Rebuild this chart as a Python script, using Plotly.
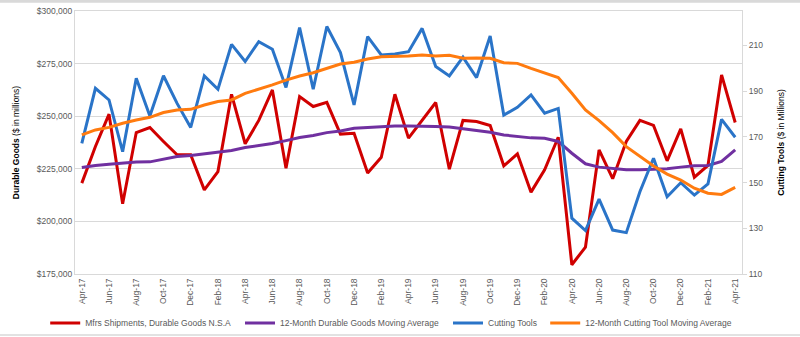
import plotly.graph_objects as go

months = ["Apr-17","May-17","Jun-17","Jul-17","Aug-17","Sep-17","Oct-17","Nov-17","Dec-17",
          "Jan-18","Feb-18","Mar-18","Apr-18","May-18","Jun-18","Jul-18","Aug-18","Sep-18","Oct-18","Nov-18","Dec-18",
          "Jan-19","Feb-19","Mar-19","Apr-19","May-19","Jun-19","Jul-19","Aug-19","Sep-19","Oct-19","Nov-19","Dec-19",
          "Jan-20","Feb-20","Mar-20","Apr-20","May-20","Jun-20","Jul-20","Aug-20","Sep-20","Oct-20","Nov-20","Dec-20",
          "Jan-21","Feb-21","Mar-21","Apr-21"]

durable_goods = [218200, 235600, 250950, 208400, 242250, 244600, 238000, 231650, 231650,
                 215000, 223700, 260400, 236900, 248000, 262500, 225300, 259300, 254600, 256600, 241500, 241900,
                 223000, 230500, 260400, 239600, 248000, 256500, 224800, 248000, 247500, 245600, 226400, 232100,
                 213900, 224500, 240000, 179400, 187800, 234000, 220300, 238000, 248000, 245600, 228800, 244000,
                 221000, 226600, 269600, 247000]

durable_ma = [225600, 226600, 227200, 227700, 228200, 228300, 229600, 230800, 231300,
              232000, 232700, 233700, 235100, 236100, 237000, 238400, 239900, 240800, 242200, 243000, 244300,
              244600, 245100, 245400, 245400, 245400, 245100, 244900, 244100, 243500, 242400, 241100, 240300,
              239700, 239500, 238000, 232400, 227400, 225800, 225300, 224500, 224500, 224800, 225000, 225800,
              226400, 226600, 228500, 234000]

cutting_tools = [167.1, 191.2, 186.1, 163.5, 195.6, 179.1, 196.7, 184.6, 174.1,
                 196.6, 190.8, 210.4, 202.9, 211.6, 208.3, 191.6, 217.7, 190.8, 218.2, 206.8, 183.9,
                 213.8, 205.8, 206.2, 207.2, 217.4, 200.7, 196.6, 204.8, 195.9, 214.1, 179.5, 182.9,
                 188.3, 180.3, 182.4, 134.4, 129.0, 142.7, 129.2, 128.1, 146.0, 160.6, 143.8, 149.9,
                 144.5, 149.4, 177.6, 169.8]

cutting_ma = [170.8, 173.0, 174.1, 175.9, 177.3, 178.5, 180.6, 181.7, 182.0,
              183.9, 185.4, 186.1, 189.0, 190.8, 192.7, 194.8, 196.6, 198.0, 199.9, 201.8, 202.6,
              204.0, 205.0, 205.0, 205.3, 205.8, 205.3, 205.6, 204.3, 204.5, 204.3, 202.4, 202.1,
              199.9, 197.8, 195.9, 189.0, 181.7, 177.1, 171.8, 165.7, 161.3, 157.2, 153.7, 151.1,
              147.5, 145.3, 144.8, 147.9]

tick_labels = months[::2]
right_ticks = [110, 130, 150, 170, 190, 210]

FONT = "Liberation Sans"
GRAY = "#595959"
GRID = "#d9d9d9"

series = [
    ("Mfrs Shipments, Durable Goods N.S.A", durable_goods, "y", "#d00000", "legend"),
    ("12-Month Durable Goods Moving Average", durable_ma, "y", "#7030a0", "legend2"),
    ("Cutting Tools", cutting_tools, "y2", "#2a74c8", "legend3"),
    ("12-Month Cutting Tool Moving Average", cutting_ma, "y2", "#ff7b0f", "legend4"),
]

fig = go.Figure()
for name, vals, ax, color, lg in series:
    fig.add_trace(go.Scatter(x=months, y=vals, name=name, yaxis=ax, legend=lg,
                             mode="lines", line=dict(color=color, width=3)))

def legend_at(xc):
    return dict(orientation="h", xref="container", yref="container",
                x=xc, xanchor="left", y=0.0415, yanchor="middle",
                font=dict(size=8.5, color=GRAY), itemwidth=30, bgcolor="rgba(0,0,0,0)")

fig.update_layout(
    width=800, height=337,
    margin=dict(l=75, r=58, t=11, b=63),
    paper_bgcolor="white", plot_bgcolor="white",
    font=dict(family=FONT, size=8.5, color=GRAY),
    showlegend=True,
    legend=legend_at(0.0565),
    legend2=legend_at(0.3),
    legend3=legend_at(0.56),
    legend4=legend_at(0.6815),
    xaxis=dict(type="category", range=[-0.5, len(months) - 0.5],
               tickmode="array", tickvals=tick_labels, ticktext=tick_labels,
               tickangle=-90, showgrid=False, showline=True, linecolor=GRID, mirror=True,
               ticks="", automargin=False, tickfont=dict(size=8.5, color=GRAY)),
    yaxis=dict(range=[175000, 300000], dtick=25000, tickprefix="$", tickformat=",.0f",
               showgrid=True, gridcolor=GRID, gridwidth=1, zeroline=False,
               showline=True, linecolor=GRID, mirror=True, ticks="", automargin=False,
               tickfont=dict(size=8.5, color=GRAY),
               title=dict(text="<b>Durable Goods</b> ($ in millions)", font=dict(size=8.5, color="black"))),
    yaxis2=dict(overlaying="y", side="right", range=[110, 225], tickvals=right_ticks,
                tickprefix="$", showgrid=False, zeroline=False, showline=True, linecolor=GRID,
                ticks="outside", ticklen=4, tickcolor=GRID, automargin=False,
                tickfont=dict(size=8.5, color=GRAY),
                title=dict(text="<b>Cutting Tools</b> ($ in Millions)", font=dict(size=8.5, color="black"))),
    shapes=[
        dict(type="line", xref="paper", yref="paper", x0=-0.2, x1=1.2, y0=1.037, y1=1.037,
             line=dict(color=GRID, width=3)),
        dict(type="line", xref="paper", yref="paper", x0=-0.2, x1=1.2, y0=-0.232, y1=-0.232,
             line=dict(color=GRID, width=1.5)),
    ],
)

fig.write_html("out.html")
